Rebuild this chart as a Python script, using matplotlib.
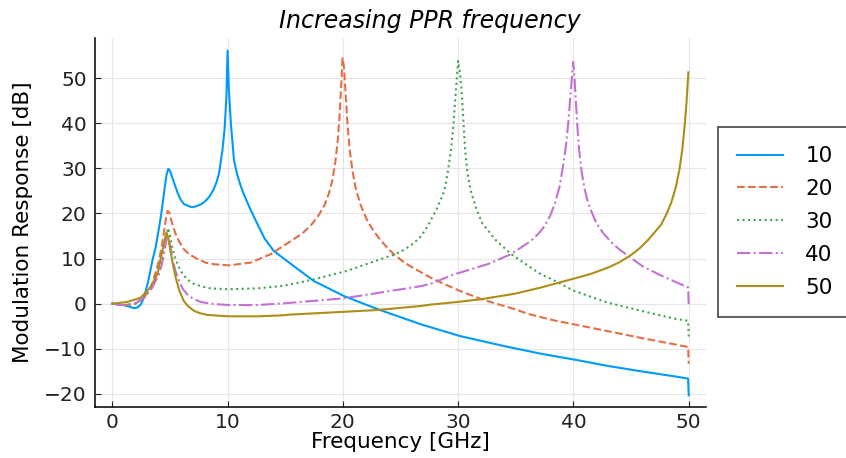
#Importing the Matplotlib library
import matplotlib.pyplot as plt

#Input Data: frequency [GHz] and response [dB] per PPR frequency
f_10 = [0, 1.0, 1.9, 2.2, 2.5, 2.7, 2.9, 3.1, 3.3, 3.5, 3.75, 4.0, 4.2, 4.4, 4.55, 4.7, 4.85, 5.0, 5.2, 5.4,
        5.65, 5.9, 6.2, 6.75, 7.0, 7.4, 7.75, 8.1, 8.45, 8.8, 9.05, 9.25, 9.55, 9.75, 9.9, 10.0, 10.12, 10.3,
        10.56, 10.8, 11.05, 11.4, 12.0, 12.6, 13.2, 14.0, 15.5, 17.5, 20.1, 23.0, 26.8, 30.2, 34.0, 37.2,
        40.1, 43.0, 45.9, 48.75, 49.95, 50.0]
db_10 = [0, -0.3, -1.0, -0.8, -0.1, 1.2, 2.8, 4.8, 7.3, 9.8, 12.4, 16.0, 19.1, 22.8, 25.8, 28.5, 29.9, 29.5,
         28.0, 26.5, 24.7, 23.2, 22.1, 21.5, 21.4, 21.7, 22.1, 22.8, 23.8, 25.4, 27.0, 28.8, 33.9, 39.0,
         46.0, 56.1, 47.0, 39.5, 31.7, 29.0, 26.8, 24.3, 20.8, 17.6, 14.5, 11.7, 8.8, 5.0, 1.7, -1.2, -4.6,
         -7.2, -9.4, -11.1, -12.4, -13.8, -15.0, -16.1, -16.6, -20.3]

f_20 = [0, 1.0, 1.9, 2.75, 3.45, 4.05, 4.3, 4.5, 4.65, 4.8, 4.95, 5.05, 5.25, 5.5, 5.8, 6.2, 6.7, 7.4, 8.1,
        8.8, 10.1, 12.0, 13.75, 15.5, 16.5, 17.3, 17.9, 18.4, 18.8, 19.1, 19.35, 19.55, 19.7, 19.85, 19.97,
        20.1, 20.25, 20.4, 20.6, 20.83, 21.12, 21.55, 22.1, 22.7, 23.3, 24.0, 24.6, 25.4, 26.2, 27.6, 28.5,
        30.0, 32.0, 34.9, 36.0, 37.2, 38.5, 40.1, 43.0, 45.9, 48.75, 49.95, 50.0]
db_20 = [0, -0.3, -0.1, 1.3, 4.3, 9.5, 12.8, 16.2, 18.8, 20.6, 20.2, 19.1, 17.3, 15.4, 13.8, 12.1, 10.9, 9.9,
         9.1, 8.75, 8.5, 9.1, 11.0, 13.9, 15.6, 17.6, 19.6, 21.8, 24.5, 27.5, 31.5, 36.0, 41.0, 48.0, 54.4,
         52.4, 46.0, 39.9, 34.0, 29.5, 25.5, 21.8, 18.5, 16.0, 14.0, 12.0, 10.6, 9.0, 7.8, 5.8, 4.7,
         3.0, 1.0, -1.2, -2.2, -3.0, -3.8, -4.6, -6.1, -7.6, -9.0, -9.6, -13.3]

f_30 = [0, 1.0, 1.9, 2.75, 3.45, 4.05, 4.3, 4.5, 4.7, 4.85, 5.0, 5.2, 5.5, 5.8, 6.1, 6.5, 7.0, 7.65, 8.5,
        10.1, 12.6, 14.6, 15.5, 17.5, 20.4, 23.3, 24.6, 25.4, 26.2, 26.8, 27.4, 28.2, 28.8, 29.08, 29.37,
        29.6, 29.8, 30.0, 30.17, 30.3, 30.47, 30.61, 30.82, 31.1, 31.54, 32.1, 33.3, 34.6, 36.3, 37.2,
        38.06, 40.1, 43.0, 45.9, 48.75, 49.95, 50.0]
db_30 = [0, -0.3, -0.1, 1.3, 3.6, 7.3, 9.8, 12.4, 15.2, 16.8, 15.2, 12.4, 9.8, 8.0, 6.6, 5.4, 4.5, 3.9, 3.4,
         3.2, 3.4, 3.9, 4.3, 5.4, 7.3, 9.9, 11.0, 12.1, 13.5, 15.0, 17.4, 21.3, 25.0, 28.8, 33.9,
         39.9, 47.3, 53.8, 51.0, 47.3, 39.9, 33.9, 28.8, 25.0, 21.3, 17.8, 14.0, 11.0, 8.0, 6.5,
         5.5, 2.8, 0.2, -1.6, -3.3, -3.8, -7.6]

f_40 = [0, 1.0, 1.9, 2.75, 3.45, 4.05, 4.3, 4.5, 4.65, 4.8, 5.0, 5.2, 5.45, 5.8, 6.1, 6.5, 7.0, 7.65, 8.5,
        10.1, 12.6, 15.5, 20.1, 26.8, 27.6, 29.65, 32.55, 34.6, 36.3, 37.0, 37.5, 38.0, 38.4, 38.8, 39.1,
        39.35, 39.55, 39.78, 39.98, 40.12, 40.22, 40.35, 40.5, 40.7, 40.94, 41.2, 41.5, 42.0, 42.6, 43.3,
        44.0, 44.8, 46.0, 47.4, 48.7, 49.95, 50.0]
db_40 = [0, -0.3, -0.1, 1.3, 3.5, 6.5, 8.7, 11.3, 13.6, 15.4, 13.2, 10.2, 7.5, 5.0, 3.3, 2.1, 1.1, 0.4, 0.0,
         -0.3, -0.3, 0.2, 1.2, 3.9, 4.4, 6.5, 8.75, 11.0, 13.9, 15.6, 17.2, 19.6, 22.3, 26.0, 30.5,
         35.0, 40.0, 47.3, 53.6, 49.0, 44.5, 39.0, 34.0, 29.5, 25.8, 23.0, 20.8, 17.8, 15.6, 13.6,
         12.0, 10.5, 8.3, 6.5, 5.0, 3.6, -0.1]

f_50 = [0, 1.3, 2.45, 3.3, 3.9, 4.1, 4.35, 4.55, 4.7, 4.85, 5.05, 5.25, 5.5, 5.8, 6.2, 6.6, 7.1, 7.6, 8.25,
        10.1, 12.6, 14.6, 15.5, 20.1, 23.0, 26.8, 27.6, 30.0, 32.0, 34.9, 37.2, 38.06, 40.1, 41.5, 43.0,
        44.0, 45.0, 45.8, 46.5, 47.1, 47.6, 48.1, 48.5, 48.9, 49.2, 49.45, 49.65, 49.82, 49.97]
db_50 = [0, 0.4, 1.3, 3.6, 6.5, 8.8, 11.7, 14.2, 15.8, 14.6, 11.7, 8.8, 5.8, 3.0, 0.6, -0.6, -1.6, -2.1, -2.5,
         -2.8, -2.8, -2.6, -2.4, -1.8, -1.4, -0.5, -0.2, 0.4, 1.0, 2.2, 3.6, 4.2, 5.6, 6.6, 8.0,
         9.2, 10.8, 12.4, 14.2, 16.0, 17.5, 20.0, 22.5, 26.0, 29.8, 34.3, 39.5, 45.0, 51.3]

labels = ['10', '20', '30', '40', '50']
x_ticks = [0, 10, 20, 30, 40, 50]
y_ticks = [-20, -10, 0, 10, 20, 30, 40, 50]

#Line Chart
fig = plt.figure(figsize=(8.46, 4.58), dpi=100)
ax = fig.add_axes([95 / 846, 1 - 407 / 458, 611 / 846, 369 / 458])

ax.plot(f_10, db_10, color='#009AFA', lw=1.5, ls='-', label=labels[0])
ax.plot(f_20, db_20, color='#E36F47', lw=1.5, ls='--', label=labels[1])
ax.plot(f_30, db_30, color='#3EA44E', lw=1.5, ls=':', label=labels[2])
ax.plot(f_40, db_40, color='#C371D2', lw=1.5, ls='-.', label=labels[3])
ax.plot(f_50, db_50, color='#AC8E18', lw=1.5, ls='-', label=labels[4])

ax.set_xlim(-1.5, 51.5)
ax.set_ylim(-22.9, 58.9)
ax.set_xticks(x_ticks)
ax.set_yticks(y_ticks)
ax.grid(True, color='#E6E6E6', lw=0.8)
ax.set_axisbelow(True)
ax.spines['top'].set_visible(False)
ax.spines['right'].set_visible(False)
ax.spines['left'].set_linewidth(1.1)
ax.spines['bottom'].set_linewidth(1.1)
ax.tick_params(direction='in', length=4, width=0.8, labelsize=14.5, pad=6, colors='#222222')
ax.tick_params(axis='x', pad=4)

ax.set_xlabel('Frequency [GHz]', fontsize=15.5, labelpad=0)
ax.set_ylabel('Modulation Response [dB]', fontsize=15.5, labelpad=8)
fig.text(430 / 846, 1 - 28 / 458, 'Increasing PPR frequency', fontsize=17, style='italic',
         ha='center', va='baseline')

leg = ax.legend(loc='upper left', bbox_to_anchor=(718 / 846, 1 - 126.7 / 458),
                bbox_transform=fig.transFigure, fontsize=15.5, fancybox=False, framealpha=1,
                edgecolor='#444444', borderpad=0.9, labelspacing=0.6, handlelength=2.1,
                handletextpad=1.05, borderaxespad=0)
leg.get_frame().set_linewidth(1.2)

fig.savefig('out.png', dpi=100)
